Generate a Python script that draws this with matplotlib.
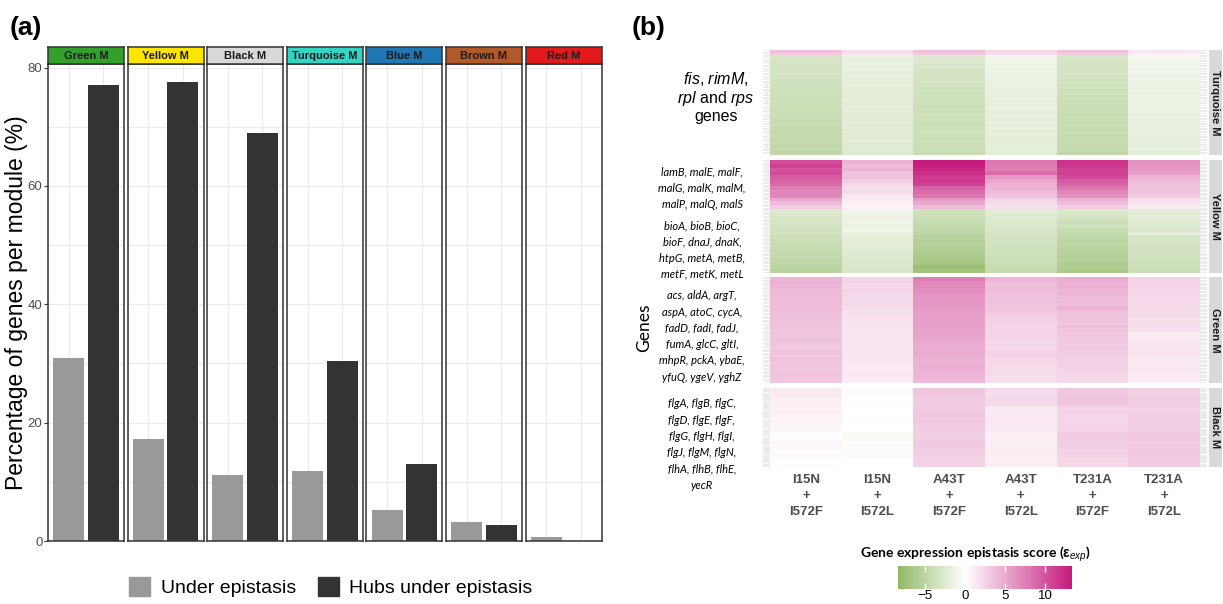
import numpy as np
import matplotlib
matplotlib.use("Agg")
import matplotlib.pyplot as plt
from matplotlib.colors import LinearSegmentedColormap, Normalize
from matplotlib.patches import Patch
from matplotlib.cm import ScalarMappable

plt.rcParams['font.family'] = ['Liberation Sans', 'DejaVu Sans']
plt.rcParams['mathtext.fontset'] = 'custom'
plt.rcParams['mathtext.rm'] = 'Liberation Sans'
plt.rcParams['mathtext.it'] = 'Liberation Sans:italic'
plt.rcParams['mathtext.bf'] = 'Liberation Sans:bold'

# ---- panel (a) data ----
modules = ["Green M", "Yellow M", "Black M", "Turquoise M", "Blue M", "Brown M", "Red M"]
strip_colors = ["#33a02c", "#ffe600", "#d9d9d9", "#33d4c4", "#1f78b4", "#b15928", "#e31a1c"]
under_epistasis = [30.9, 17.3, 11.1, 11.9, 5.2, 3.2, 0.6]
hubs_under_epistasis = [77.1, 77.5, 69.0, 30.4, 13.0, 2.7, 0.0]

# ---- panel (b) data: columns = mutant pairs, values per gene row (top -> bottom) ----
mutant_pairs = ["I15N\n+\nI572F", "I15N\n+\nI572L", "A43T\n+\nI572F",
                "A43T\n+\nI572L", "T231A\n+\nI572F", "T231A\n+\nI572L"]

turquoise_cols = [
    [3.8, 3.2, -3.0, -3.1, -3.0, -3.2, -3.1, -3.3, -3.2, -3.4, -3.3, -3.5, -3.4, -3.6, -3.5, -3.6, -3.7,
     -3.6, -3.8, -3.7, -3.9, -3.8, -3.9, -4.0, -3.9, -4.1, -4.0, -4.2, -4.1, -4.3, -4.2, -4.4,
     -4.3, -4.5, -4.4, -4.5, -4.6, -4.5, -4.7, -4.6],
    [2.0, 1.6, -1.4, -1.6, -1.5, -1.8, -1.6, -1.7, -1.9, -1.7, -1.8, -2.0, -1.9, -1.8, -2.1, -2.0, -1.9,
     -2.2, -2.0, -2.1, -2.3, -2.0, -2.2, -2.1, -2.3, -2.2, -2.4, -2.1, -2.3, -2.2, -2.4, -2.3,
     -2.2, -2.5, -2.3, -2.4, -2.2, -2.5, -2.4, -2.6],
    [3.8, 3.0, -2.5, -2.7, -2.6, -2.9, -2.8, -3.0, -3.1, -2.9, -3.3, -3.2, -3.4, -3.3, -3.5, -3.4, -3.6,
     -3.5, -3.7, -3.6, -3.5, -3.8, -3.6, -3.7, -3.5, -3.8, -3.6, -3.7, -3.9, -3.6, -3.8, -3.7,
     -3.9, -3.8, -3.6, -3.9, -3.8, -4.0, -3.9, -4.1],
    [2.2, 1.8, -1.0, -1.2, -1.1, -1.3, -1.2, -1.4, -1.3, -1.5, -1.4, -1.6, -1.5, -1.7, -1.6, -1.5, -1.7,
     -1.8, -1.6, -1.9, -1.7, -1.8, -1.6, -1.9, -1.8, -1.7, -2.0, -1.8, -1.9, -1.7, -2.0, -1.9,
     -1.8, -2.1, -1.9, -2.0, -1.8, -2.1, -2.0, -2.2],
    [3.6, 3.0, -2.9, -3.0, -3.1, -3.0, -3.2, -3.3, -3.1, -3.4, -3.2, -3.5, -3.3, -3.6, -3.4, -3.7, -3.5,
     -3.8, -3.6, -3.9, -3.7, -4.0, -3.8, -3.9, -4.1, -3.8, -4.0, -4.2, -3.9, -4.1, -4.3, -4.0,
     -4.2, -4.1, -4.4, -4.2, -4.3, -4.5, -4.3, -4.6],
    [1.4, 1.0, -0.9, -1.0, -1.1, -1.2, -1.0, -1.3, -1.1, -1.4, -1.2, -1.3, -1.5, -1.4, -1.6, -1.3, -1.5,
     -1.4, -1.7, -1.5, -1.6, -1.4, -1.7, -1.6, -1.8, -1.5, -1.7, -1.6, -1.8, -1.7, -1.9, -1.6,
     -1.8, -1.7, -1.9, -1.8, -2.0, -1.7, -1.9, -2.0],
]

yellow_cols = [
    [10.5, 11.0, 10.0, 10.5, 9.5, 9.0, 8.5, 7.5, 7.0, 7.0, 5.0, 4.0, 3.0,
     -2.5, -2.8, -3.0, -3.0, -3.3, -3.5, -3.4, -3.8, -3.9, -4.0, -4.2, -4.3, -4.5, -4.6, -4.8, -5.0, -5.2],
    [4.5, 4.0, 4.5, 3.5, 3.5, 3.0, 2.2, 1.8, 2.0, 1.5, 1.2, 1.0, 0.8,
     -1.2, -1.3, -1.5, -1.2, -1.6, -1.1, -1.8, -2.0, -2.0, -2.2, -2.3, -2.4, -2.6, -2.6, -2.8, -2.9, -3.0],
    [13.3, 13.0, 12.5, 12.0, 11.5, 11.5, 11.0, 9.0, 8.5, 8.0, 6.0, 5.0, 4.0,
     -3.5, -3.8, -3.9, -4.2, -4.5, -4.6, -4.8, -5.2, -5.5, -5.6, -5.8, -6.0, -6.2, -6.4, -6.6, -7.6, -7.0],
    [8.0, 7.5, 7.5, 8.5, 6.0, 5.0, 4.5, 4.5, 4.0, 3.5, 2.5, 2.0, 1.8,
     -2.2, -2.4, -2.5, -2.6, -2.8, -2.9, -3.0, -3.2, -3.3, -3.4, -3.5, -3.6, -3.8, -3.9, -4.0, -4.2, -4.3],
    [12.0, 11.5, 11.0, 11.0, 10.5, 9.5, 9.0, 8.0, 7.0, 6.5, 4.5, 4.0, 3.0,
     -2.8, -3.0, -3.3, -3.8, -3.5, -4.2, -4.5, -4.6, -4.9, -5.0, -5.2, -5.3, -5.5, -5.6, -5.8, -6.0, -6.2],
    [6.5, 6.0, 6.0, 5.5, 4.5, 4.0, 3.5, 3.5, 3.5, 3.0, 2.0, 1.5, 1.2,
     -2.0, -2.2, -2.3, -2.5, -2.4, -2.8, -1.9, -3.0, -3.1, -3.2, -3.3, -3.4, -3.5, -3.6, -3.7, -3.8, -4.0],
]

green_cols = [
    [4.3, 4.5, 4.2, 4.0, 4.1, 3.9, 4.0, 3.8, 3.9, 3.7, 3.8, 3.6, 3.5, 3.7, 3.4,
     3.5, 3.3, 3.6, 3.4, 3.2, 3.5, 3.3, 3.6, 3.4, 3.5, 3.3, 3.6, 3.4, 3.2],
    [2.4, 2.6, 2.3, 2.5, 2.2, 2.3, 2.1, 2.2, 2.0, 1.8, 1.9, 1.7, 1.6, 1.7, 1.5,
     1.6, 1.4, 1.5, 1.6, 1.4, 1.5, 1.3, 1.5, 1.4, 1.2, 1.3, 1.4, 1.2, 1.1],
    [7.5, 7.0, 6.8, 6.5, 6.3, 6.2, 5.9, 6.0, 5.8, 5.7, 5.5, 5.6, 5.4, 5.5, 5.3,
     5.4, 5.2, 5.0, 4.9, 4.8, 4.9, 4.7, 4.6, 4.5, 4.6, 4.4, 4.3, 4.2, 4.0],
    [4.2, 4.0, 3.8, 3.9, 3.6, 3.7, 3.5, 3.4, 3.5, 3.3, 2.8, 2.7, 2.6, 2.5, 2.6,
     2.4, 2.5, 2.3, 2.4, 2.2, 2.6, 2.5, 2.3, 2.2, 2.1, 2.0, 2.1, 1.9, 1.8],
    [4.8, 4.6, 4.5, 4.3, 4.2, 4.0, 3.9, 3.7, 4.4, 3.6, 3.5, 3.6, 3.4, 4.0, 3.3,
     3.2, 3.3, 3.1, 3.0, 3.2, 2.9, 2.8, 2.7, 2.8, 2.6, 2.5, 2.4, 2.3, 2.2],
    [2.6, 2.4, 2.5, 2.3, 2.4, 2.2, 2.3, 2.1, 2.2, 2.0, 2.1, 1.9, 2.0, 1.8, 1.9,
     1.2, 1.3, 1.4, 1.5, 1.4, 1.6, 1.5, 1.4, 1.3, 1.5, 1.4, 1.3, 1.2, 1.1],
]

black_cols = [
    [1.2, 1.0, 1.0, 0.8, 0.6, 0.1, 0.5, 0.3, 0.2],
    [0.3, 0.2, 0.0, -0.1, 0.0, -0.4, -0.2, -0.3, 0.0],
    [3.3, 3.0, 3.1, 3.2, 3.0, 2.9, 3.1, 2.8, 2.6],
    [2.0, 2.2, 1.2, 1.4, 1.3, 1.0, 0.9, 1.1, 1.0],
    [3.3, 3.4, 2.6, 2.4, 2.5, 3.0, 2.8, 2.5, 2.2],
    [2.8, 2.9, 2.7, 2.8, 2.9, 3.2, 3.0, 3.1, 3.0],
]

W, H = 1223, 604


def box(x0, y0, x1, y1):
    # pixel box -> figure fraction
    return [x0 / W, 1 - y1 / H, (x1 - x0) / W, (y1 - y0) / H]


fig = plt.figure(figsize=(W / 100, H / 100), dpi=100)

# ================= panel (a) =================
for i, mod in enumerate(modules):
    left = 48 + i * 79.6
    ax = fig.add_axes(box(left, 64, left + 76, 541))
    ax.bar([1, 2], [under_epistasis[i], hubs_under_epistasis[i]], width=0.9,
           color=["#999999", "#333333"], zorder=2)
    ax.set_xlim(0.4, 2.6)
    ax.set_ylim(0, 80.6)
    ax.set_xticks([1, 2])
    ax.set_yticks([0, 20, 40, 60, 80])
    ax.set_yticks([10, 30, 50, 70], minor=True)
    ax.grid(True, which='both', color='#ebebeb', lw=0.9, zorder=0)
    ax.set_axisbelow(True)
    ax.tick_params(axis='x', length=0, labelbottom=False)
    ax.tick_params(which='minor', length=0)
    if i == 0:
        ax.tick_params(axis='y', length=3, color='#333333', labelsize=9.5,
                       labelcolor='#4d4d4d', pad=1)
    else:
        ax.tick_params(axis='y', length=0, labelleft=False)
    for s in ax.spines.values():
        s.set_color('#333333')
        s.set_linewidth(1.1)

    sax = fig.add_axes(box(left, 47, left + 76, 64))
    sax.set_facecolor(strip_colors[i])
    sax.set_xticks([])
    sax.set_yticks([])
    for s in sax.spines.values():
        s.set_color('#333333')
        s.set_linewidth(1.1)
    sax.text(0.5, 0.48, mod, ha='center', va='center', fontsize=8, fontweight='bold',
             color='#1a1a1a', transform=sax.transAxes)

fig.text(17 / W, 1 - 303 / H, "Percentage of genes per module (%)", rotation=90,
         ha='center', va='center', fontsize=16.5)
fig.text(10 / W, 1 - 28 / H, "(a)", fontsize=19, fontweight='bold', ha='left', va='center')

handles = [Patch(color="#999999", label="Under epistasis"),
           Patch(color="#333333", label="Hubs under epistasis")]
fig.legend(handles=handles, loc='center', bbox_to_anchor=(331 / W, 1 - 587 / H), ncol=2,
           frameon=False, fontsize=14, handlelength=1.05, handleheight=1.15,
           handletextpad=0.55, columnspacing=1.15)

# ================= panel (b) =================
vmin, vmax = -8.3, 13.3
wpos = -vmin / (vmax - vmin)
cmap = LinearSegmentedColormap.from_list(
    "epi", [(0.0, "#92b866"), (wpos, "#ffffff"), (1.0, "#c51b7d")])
norm = Normalize(vmin, vmax)

facets = [
    ("Turquoise M", turquoise_cols, 50, 155),
    ("Yellow M", yellow_cols, 160, 273),
    ("Green M", green_cols, 277, 383),
    ("Black M", black_cols, 388, 467),
]

for k, (name, cols, top, bot) in enumerate(facets):
    data = np.array(cols).T
    n = data.shape[0]
    ax = fig.add_axes(box(763, top, 1207, bot))
    ax.set_facecolor('#ebebeb')
    ax.pcolormesh(np.arange(7), np.arange(n + 1), data, cmap=cmap, norm=norm, zorder=1)
    ax.set_xlim(-0.1, 6.1)
    ax.set_ylim(n, 0)
    ax.set_yticks(np.arange(n) + 0.5)
    ax.grid(True, axis='y', color='white', lw=0.8)
    ax.set_axisbelow(True)
    ax.tick_params(axis='y', length=0, labelleft=False)
    ax.set_xticks(np.arange(6) + 0.5)
    if k == len(facets) - 1:
        ax.set_xticklabels(mutant_pairs, fontsize=9.5, fontweight='bold', color='#4d4d4d',
                           linespacing=1.45)
        ax.tick_params(axis='x', length=0, pad=5)
    else:
        ax.tick_params(axis='x', length=0, labelbottom=False)
    for s in ax.spines.values():
        s.set_visible(False)

    sax = fig.add_axes(box(1209, top, 1222, bot))
    sax.set_facecolor('#d9d9d9')
    sax.set_xticks([])
    sax.set_yticks([])
    for s in sax.spines.values():
        s.set_visible(False)
    sax.text(0.5, 0.5, name, rotation=-90, ha='center', va='center', fontsize=8,
             fontweight='bold', color='#1a1a1a', transform=sax.transAxes)

# gene group annotations
fig.text(716 / W, 1 - 97 / H,
         "$\\mathit{fis}$, $\\mathit{rimM}$,\n$\\mathit{rpl}$ and $\\mathit{rps}$\ngenes",
         ha='center', va='center', fontsize=11.5, linespacing=1.05)
gene_blocks = [
    ("lamB, malE, malF,\nmalG, malK, malM,\nmalP, malQ, malS", 188),
    ("bioA, bioB, bioC,\nbioF, dnaJ, dnaK,\nhtpG, metA, metB,\nmetF, metK, metL", 250),
    ("acs, aldA, argT,\naspA, atoC, cycA,\nfadD, fadI, fadJ,\nfumA, glcC, gltI,\nmhpR, pckA, ybaE,\n"
     "yfuQ, ygeV, yghZ", 336.5),
    ("flgA, flgB, flgC,\nflgD, flgE, flgF,\nflgG, flgH, flgI,\nflgJ, flgM, flgN,\nflhA, flhB, flhE,\n"
     "yecR", 444.5),
]
for txt, yc in gene_blocks:
    fig.text(702 / W, 1 - yc / H, txt, ha='center', va='center', fontsize=8,
             style='italic', family=['Lato', 'DejaVu Sans'], linespacing=1.58)

fig.text(644 / W, 1 - 328 / H, "Genes", rotation=90, ha='center', va='center',
         fontsize=12.5, family=['Lato', 'DejaVu Sans'])
fig.text(632 / W, 1 - 28 / H, "(b)", fontsize=19, fontweight='bold', ha='left', va='center')

# colour bar
fig.text(975 / W, 1 - 554 / H,
         "Gene expression epistasis score ($\\mathbf{\\varepsilon}_{\\mathit{exp}}$)",
         ha='center', va='center', fontsize=10, fontweight='bold',
         family=['Lato', 'DejaVu Sans'])
cax = fig.add_axes(box(898, 566, 1072, 589))
sm = ScalarMappable(norm=norm, cmap=cmap)
cb = fig.colorbar(sm, cax=cax, orientation='horizontal', ticks=[-5, 0, 5, 10])
cb.outline.set_visible(False)
cb.ax.set_xticklabels(["\u22125", "0", "5", "10"])
cb.ax.tick_params(direction='in', color='white', length=4, width=1, top=True,
                  bottom=True, labelsize=9.5, pad=1)

fig.savefig("out.png", dpi=100)
